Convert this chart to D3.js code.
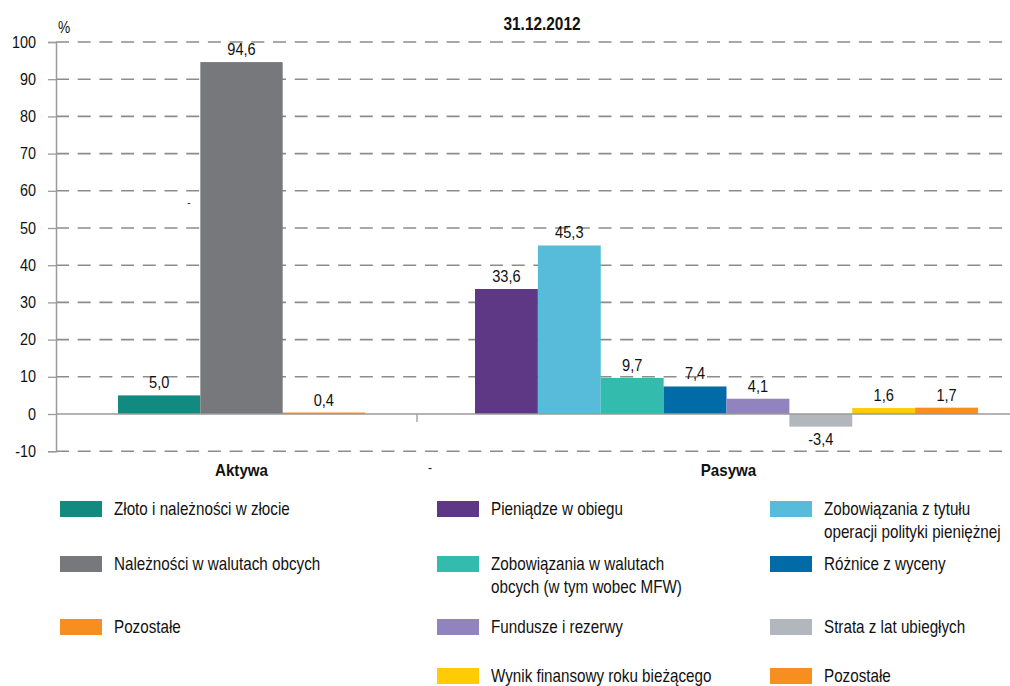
<!DOCTYPE html>
<html><head><meta charset="utf-8">
<script src="https://cdn.jsdelivr.net/npm/d3@7"></script>
<style>
body{margin:0;background:#fff;}
text{font-family:"Liberation Sans",Arial,sans-serif;fill:#111;}
</style></head>
<body>
<svg id="chart" width="1010" height="686"></svg>
<script>
const title = "31.12.2012";
const categories = ["Aktywa", "Pasywa"];
const aktywaSeries = ["Złoto i należności w złocie", "Należności w walutach obcych", "Pozostałe"];
const aktywaValues = [5.0, 94.6, 0.4];
const aktywaColors = ["#138a80", "#77787b", "#f68e20"];
const pasywaSeries = ["Pieniądze w obiegu", "Zobowiązania z tytułu operacji polityki pieniężnej",
  "Zobowiązania w walutach obcych (w tym wobec MFW)", "Różnice z wyceny", "Fundusze i rezerwy",
  "Strata z lat ubiegłych", "Wynik finansowy roku bieżącego", "Pozostałe"];
const pasywaValues = [33.6, 45.3, 9.7, 7.4, 4.1, -3.4, 1.6, 1.7];
const pasywaColors = ["#5e3785", "#56bcda", "#33bbad", "#006ba6", "#9183bd", "#b1b7bd", "#ffcb05", "#f68e20"];
const aktywaLegendLines = [["Złoto i należności w złocie"], ["Należności w walutach obcych"], ["Pozostałe"]];
const pasywaLegendLines = [["Pieniądze w obiegu"], ["Zobowiązania z tytułu", "operacji polityki pieniężnej"],
  ["Zobowiązania w walutach", "obcych (w tym wobec MFW)"], ["Różnice z wyceny"], ["Fundusze i rezerwy"],
  ["Strata z lat ubiegłych"], ["Wynik finansowy roku bieżącego"], ["Pozostałe"]];
const yTicks = [-10, 0, 10, 20, 30, 40, 50, 60, 70, 80, 90, 100];

const svg = d3.select("#chart");
const fmt = v => d3.format(".1f")(v).replace(".", ",").replace("\u2212", "-");
const SX = 0.86; // horizontal condensing to mimic a narrow face

const plotLeft = 56, plotRight = 1008;
const y = d3.scaleLinear().domain([-10, 100]).range([451.2, 42]);
const xA = d3.scaleBand().domain(aktywaSeries).range([118, 365]).paddingInner(0);
const xP = d3.scaleBand().domain(pasywaSeries).range([475, 978]).paddingInner(0);

// gridlines
svg.append("g").selectAll("line").data(yTicks.filter(t => t !== 0)).join("line")
  .attr("x1", plotLeft).attr("x2", plotRight)
  .attr("y1", d => y(d)).attr("y2", d => y(d))
  .attr("stroke", "#8c8c8c").attr("stroke-width", 1.6)
  .attr("stroke-dasharray", "13,8.7");

// y axis
const yAxis = d3.axisLeft(y).tickValues(yTicks).tickSize(8).tickPadding(12).tickFormat(d => String(d));
const gy = svg.append("g").attr("transform", `translate(${plotLeft},0)`).call(yAxis);
gy.select(".domain").attr("stroke", "#9a9a9a").attr("stroke-width", 1.5);
gy.selectAll(".tick line").attr("stroke", "#9a9a9a").attr("stroke-width", 1.3);
gy.selectAll(".tick text").attr("font-size", 16).attr("fill", "#111")
  .attr("font-family", "'Liberation Sans',Arial,sans-serif")
  .attr("x", -20 / 0.9).attr("transform", "scale(0.9,1)");

svg.append("text").attr("transform", `translate(58,33) scale(${SX},1)`).attr("font-size", 16).text("%");

// bars
function drawGroup(series, values, colors, x) {
  const g = svg.append("g");
  g.selectAll("rect").data(series).join("rect")
    .attr("x", d => x(d)).attr("width", x.bandwidth())
    .attr("y", (d, i) => y(Math.max(0, values[i])))
    .attr("height", (d, i) => Math.abs(y(values[i]) - y(0)))
    .attr("fill", (d, i) => colors[i]);
  g.selectAll("text").data(series).join("text")
    .attr("transform", (d, i) => `translate(${x(d) + x.bandwidth() / 2},${values[i] >= 0 ? y(values[i]) - 7 : y(values[i]) + 18}) scale(${SX},1)`)
    .attr("text-anchor", "middle").attr("font-size", 17)
    .text((d, i) => fmt(values[i]));
}
drawGroup(aktywaSeries, aktywaValues, aktywaColors, xA);
drawGroup(pasywaSeries, pasywaValues, pasywaColors, xP);

// zero line
svg.append("line").attr("x1", plotLeft).attr("x2", 1010).attr("y1", y(0)).attr("y2", y(0))
  .attr("stroke", "#9a9a9a").attr("stroke-width", 1.5);
svg.append("line").attr("x1", 417).attr("x2", 417).attr("y1", y(0)).attr("y2", y(0) + 8)
  .attr("stroke", "#9a9a9a").attr("stroke-width", 1.3);

// category labels
const catCenters = [(xA.range()[0] + xA.range()[1]) / 2, (xP.range()[0] + xP.range()[1]) / 2 + 2];
svg.selectAll(".cat").data(categories).join("text").attr("class", "cat")
  .attr("transform", (d, i) => `translate(${catCenters[i]},476) scale(0.89,1)`)
  .attr("text-anchor", "middle").attr("font-size", 17).attr("font-weight", "bold").text(d => d);
svg.append("text").attr("x", 430).attr("y", 472).attr("text-anchor", "middle")
  .attr("font-size", 12).attr("fill", "#888").text("-");
svg.append("text").attr("x", 189).attr("y", 206).attr("text-anchor", "middle")
  .attr("font-size", 10).attr("fill", "#888").text("-");

// title
svg.append("text").attr("transform", "translate(542,30) scale(0.88,1)")
  .attr("text-anchor", "middle").attr("font-size", 17.5).attr("font-weight", "bold").text(title);

// legend
const colX = [60, 437, 770];
const rowY = [501, 556, 619, 668];
const legendItems = [];
aktywaLegendLines.forEach((l, i) => legendItems.push({lines: l, color: aktywaColors[i], col: 0, row: i}));
pasywaLegendLines.forEach((l, i) => legendItems.push({lines: l, color: pasywaColors[i], col: 1 + (i % 2), row: Math.floor(i / 2)}));
const lg = svg.append("g").selectAll("g").data(legendItems).join("g")
  .attr("transform", d => `translate(${colX[d.col]},${rowY[d.row]})`);
lg.append("rect").attr("width", 42).attr("height", 16).attr("fill", d => d.color);
lg.append("text").attr("font-size", 18).attr("transform", "translate(54,0) scale(0.845,1)")
  .selectAll("tspan").data(d => d.lines).join("tspan")
  .attr("x", 0).attr("y", (d, i) => 14 + i * 23).text(d => d);
</script>
</body></html>
